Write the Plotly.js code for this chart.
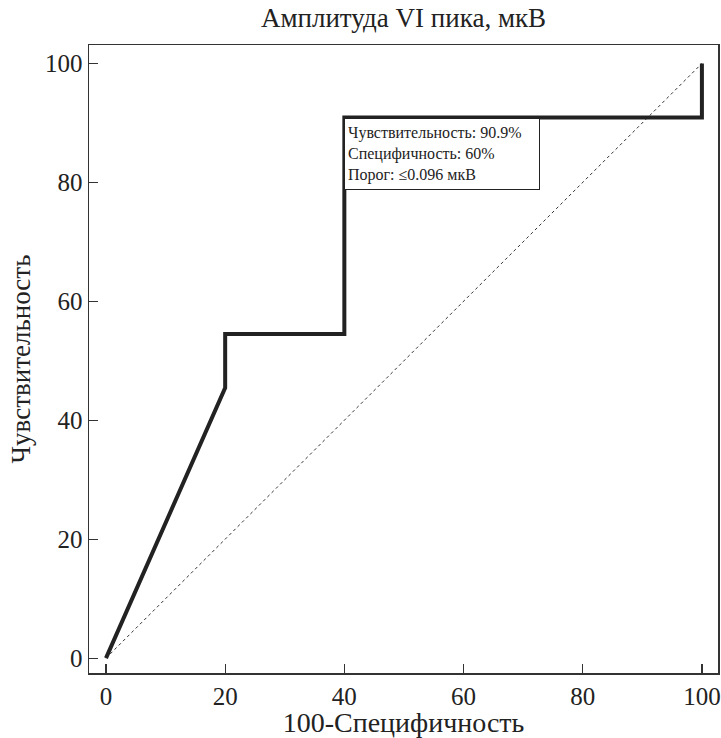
<!DOCTYPE html>
<html>
<head>
<meta charset="utf-8">
<script src="https://cdn.plot.ly/plotly-3.0.1.min.js"></script>
<style>html,body{margin:0;padding:0;background:#fff;}</style>
</head>
<body>
<div id="chart" style="width:721px;height:738px;"></div>
<script>
const rocX = [0, 20, 20, 40, 40, 100, 100];
const rocY = [0, 45.45, 54.5, 54.5, 90.9, 90.9, 100];
const diagX = [0, 100];
const diagY = [0, 100];
const xTicks = [0, 20, 40, 60, 80, 100];
const yTicks = [0, 20, 40, 60, 80, 100];
const noteLines = ["Чувствительность: 90.9%", "Специфичность: 60%", "Порог: ≤0.096 мкВ"];
const notePoint = [40, 90.9];

const font = "Liberation Serif, Times New Roman, serif";

const traces = [
  {x: diagX, y: diagY, mode: "lines", line: {color: "#333", width: 1, dash: "dot"}, hoverinfo: "skip"},
  {x: rocX, y: rocY, mode: "lines", line: {color: "#222", width: 4}, hoverinfo: "skip"}
];

const layout = {
  width: 721, height: 738,
  margin: {l: 89, r: 3, t: 45, b: 65},
  paper_bgcolor: "#fff", plot_bgcolor: "#fff",
  showlegend: false,
  font: {family: font, color: "#222", size: 25},
  title: {text: "Амплитуда VI пика, мкВ", font: {family: font, size: 27, color: "#222"}, x: 0.5, xref: "paper", y: 0.976, yanchor: "middle"},
  xaxis: {
    range: [-2.85, 102.7], tickvals: xTicks, ticks: "inside", ticklen: 9, tickwidth: 1.2, tickcolor: "#333",
    showgrid: false, zeroline: false, showline: true, mirror: true, linecolor: "#333", linewidth: 1.5,
    tickfont: {family: font, size: 25, color: "#222"},
    title: {text: "100-Специфичность", font: {family: font, size: 28, color: "#222"}, standoff: 5}
  },
  yaxis: {
    range: [-2.5, 103.1], tickvals: yTicks, ticks: "inside", ticklen: 9, tickwidth: 1.2, tickcolor: "#333",
    showgrid: false, zeroline: false, showline: true, mirror: true, linecolor: "#333", linewidth: 1.5,
    tickfont: {family: font, size: 25, color: "#222"}, ticklabelstandoff: 0,
    title: {text: "Чувствительность", font: {family: font, size: 27, color: "#222"}, standoff: 6}
  },
  annotations: [{
    x: notePoint[0], y: notePoint[1], xref: "x", yref: "y", xanchor: "left", yanchor: "top",
    showarrow: false, align: "left", text: noteLines.join("<br>"),
    font: {family: font, size: 16, color: "#222"},
    bordercolor: "#222", borderwidth: 1, borderpad: 3, bgcolor: "#fff",
    width: 188, height: 64
  }]
};

Plotly.newPlot("chart", traces, layout, {displayModeBar: false, staticPlot: true});
</script>
</body>
</html>
